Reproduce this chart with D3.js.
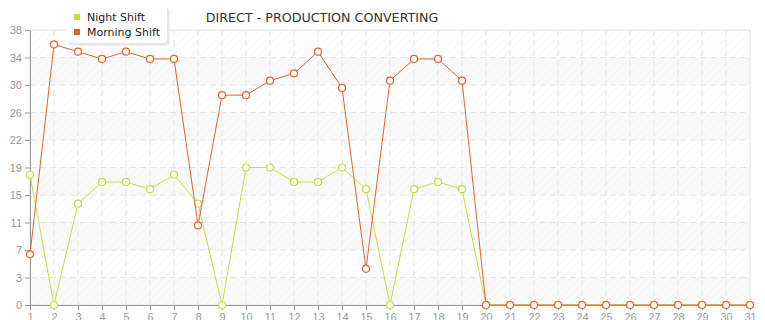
<!DOCTYPE html>
<html lang="en">
<head>
<meta charset="UTF-8">
<title>DIRECT - PRODUCTION CONVERTING</title>
<script src="https://d3js.org/d3.v7.min.js"></script>
<style>
    body { margin: 0; background: #fff; }
    svg { font-family: "DejaVu Sans", Verdana, sans-serif; }
    .tick text { fill: #999; font-size: 11px; }
    .grid line { stroke: #e6e6e6; stroke-dasharray: 6,4; }
</style>
</head>
<body>
<svg width="765" height="320"></svg>
<script>
    const days = d3.range(1, 32);
    const nightShift = [18, 0, 14, 17, 17, 16, 18, 14, 0, 19, 19, 17, 17, 19, 16, 0, 16, 17, 16, 0,
                        0, 0, 0, 0, 0, 0, 0, 0, 0, 0, 0];
    const morningShift = [7, 36, 35, 34, 35, 34, 34, 11, 29, 29, 31, 32, 35, 30, 5, 31, 34, 34, 31, 0,
                          0, 0, 0, 0, 0, 0, 0, 0, 0, 0, 0];
    const yMax = 38;
    const yTicks = d3.range(0, 11).map(i => i * yMax / 10);

    const series = [
        {name: "Night Shift", color: "#c5df3a", values: nightShift},
        {name: "Morning Shift", color: "#e0642f", values: morningShift}
    ];

    const svg = d3.select("svg");
    const plot = {left: 30, right: 750, top: 30, bottom: 305};

    const x = d3.scaleLinear().domain([1, 31]).range([plot.left, plot.right]);
    const y = d3.scaleLinear().domain([0, yMax]).range([plot.bottom, plot.top]);

    // hatched background
    const defs = svg.append("defs");
    const pat = defs.append("pattern").attr("id", "hatch")
        .attr("width", 6).attr("height", 6)
        .attr("patternUnits", "userSpaceOnUse")
        .attr("patternTransform", "rotate(45)");
    pat.append("line").attr("x1", 0).attr("y1", 0).attr("x2", 0).attr("y2", 6)
        .attr("stroke", "#efefef").attr("stroke-width", 1);

    svg.append("rect").attr("x", plot.left).attr("y", plot.top)
        .attr("width", plot.right - plot.left).attr("height", plot.bottom - plot.top)
        .attr("fill", "#fff");
    svg.selectAll("rect.band")
        .data(d3.range(0, 10).filter(i => i % 2 === 0))
        .join("rect").attr("class", "band")
        .attr("x", plot.left).attr("width", plot.right - plot.left)
        .attr("y", i => y(yTicks[i + 1]))
        .attr("height", i => y(yTicks[i]) - y(yTicks[i + 1]))
        .attr("fill", "#f9f9f9");
    svg.append("rect").attr("x", plot.left).attr("y", plot.top)
        .attr("width", plot.right - plot.left).attr("height", plot.bottom - plot.top)
        .attr("fill", "url(#hatch)")
        .attr("stroke", "#e2e2e2");

    // grid
    svg.append("g").attr("class", "grid")
        .selectAll("line").data(yTicks.slice(1, -1))
        .join("line")
        .attr("x1", plot.left).attr("x2", plot.right)
        .attr("y1", d => y(d)).attr("y2", d => y(d));
    svg.append("g").attr("class", "grid")
        .selectAll("line").data(days.slice(1, -1))
        .join("line")
        .attr("y1", plot.top).attr("y2", plot.bottom)
        .attr("x1", d => x(d)).attr("x2", d => x(d));

    // axes
    const yAxis = svg.append("g").attr("transform", `translate(${plot.left},0)`)
        .call(d3.axisLeft(y).tickValues(yTicks).tickFormat(d => Math.floor(d + 1e-9)).tickSize(5).tickPadding(3));
    const xAxis = svg.append("g").attr("transform", `translate(0,${plot.bottom})`)
        .call(d3.axisBottom(x).tickValues(days).tickFormat(d3.format("d")).tickSize(5).tickPadding(3));
    [yAxis, xAxis].forEach(a => {
        a.select(".domain").attr("stroke", "#999");
        a.selectAll(".tick line").attr("stroke", "#999");
    });

    // lines
    const line = d3.line().x((d, i) => x(days[i])).y(d => y(d));
    series.forEach(s => {
        svg.append("path").datum(s.values)
            .attr("d", line)
            .attr("fill", "none")
            .attr("stroke", s.color)
            .attr("stroke-width", 1);
        svg.append("g").selectAll("circle")
            .data(s.values)
            .join("circle")
            .attr("cx", (d, i) => x(days[i]))
            .attr("cy", d => y(d))
            .attr("r", 3.5)
            .attr("fill", "#fff")
            .attr("stroke", s.color)
            .attr("stroke-width", 1.2);
    });

    // title
    svg.append("text").attr("x", 322).attr("y", 22)
        .attr("text-anchor", "middle")
        .attr("font-size", 12.7).attr("fill", "#333")
        .text("DIRECT - PRODUCTION CONVERTING");

    // legend
    const lg = svg.append("g").attr("transform", "translate(66,6)");
    lg.append("rect").attr("x", 1.5).attr("y", 1.5).attr("width", 102).attr("height", 38)
        .attr("rx", 4).attr("fill", "#e6e6e6");
    lg.append("rect").attr("x", 0).attr("y", 0).attr("width", 101).attr("height", 37)
        .attr("rx", 4).attr("fill", "#fff");
    series.forEach((s, i) => {
        lg.append("rect").attr("x", 8).attr("y", 8 + i * 15).attr("width", 6).attr("height", 6)
            .attr("fill", s.color);
        lg.append("text").attr("x", 21).attr("y", 15 + i * 15)
            .attr("font-size", 11).attr("fill", "#222")
            .text(s.name);
    });
</script>
</body>
</html>
